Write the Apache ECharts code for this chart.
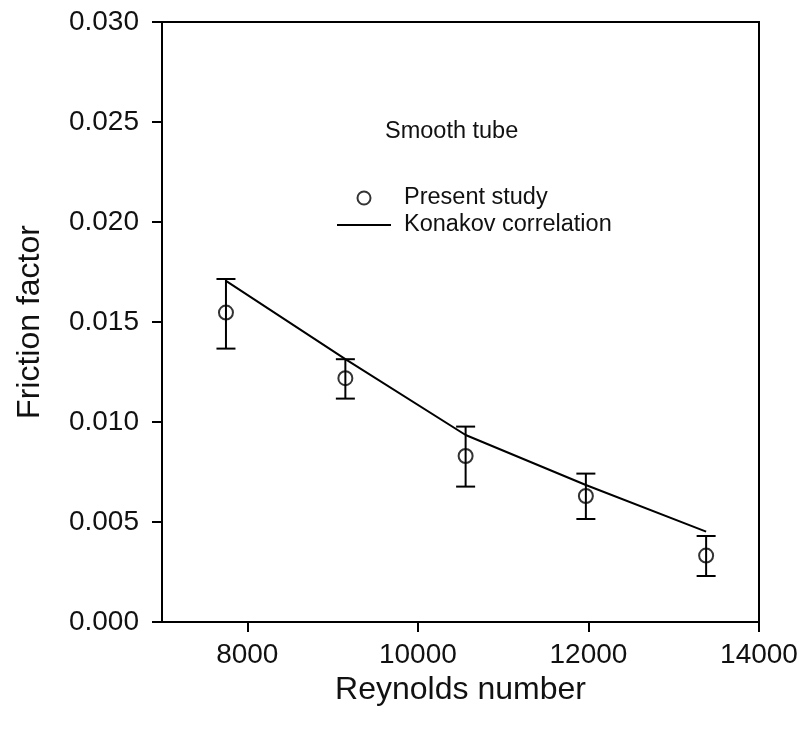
<!DOCTYPE html>
<html>
<head>
<meta charset="utf-8">
<script src="https://cdn.jsdelivr.net/npm/echarts@6/dist/echarts.min.js"></script>
<style>
html,body{margin:0;padding:0;background:#fff;}
#chart{width:801px;height:733px;}
</style>
</head>
<body>
<div id="chart"></div>
<script>
// ---- data ----
const reynolds = [7750, 9150, 10560, 11970, 13380];
const frictionStudy = [0.01547, 0.01219, 0.0083, 0.0063, 0.00332];
const errorHigh = [0.01715, 0.01314, 0.00977, 0.00742, 0.0043];
const errorLow = [0.01367, 0.01117, 0.00677, 0.00515, 0.0023];
const konakovRe = [7750, 9150, 10560, 11970, 13380];
const konakovF = [0.01706, 0.01314, 0.00935, 0.00685, 0.00452];
const xTickValues = [8000, 10000, 12000, 14000];
const seriesNames = ['Present study', 'Konakov correlation'];
const annotation = 'Smooth tube';
const xTitle = 'Reynolds number';
const yTitle = 'Friction factor';

const FONT = 'Liberation Sans, Arial, sans-serif';
const chart = echarts.init(document.getElementById('chart'), null, {renderer: 'canvas'});

const studyData = reynolds.map((x, i) => [x, frictionStudy[i]]);
const errData = reynolds.map((x, i) => [x, errorLow[i], errorHigh[i]]);
const lineData = konakovRe.map((x, i) => [x, konakovF[i]]);

const option = {
  animation: false,
  backgroundColor: '#fff',
  textStyle: {fontFamily: FONT},
  title: {
    text: annotation,
    left: 385, top: 120, padding: 0,
    textStyle: {fontSize: 23.5, fontWeight: 'normal', color: '#111', fontFamily: FONT}
  },
  legend: {
    orient: 'vertical',
    left: 336, top: 186, padding: 0,
    itemWidth: 54, itemHeight: 13, itemGap: 3,
    data: [
      {name: seriesNames[0]},
      {name: seriesNames[1], itemStyle: {opacity: 0}}
    ],
    textStyle: {fontSize: 23.5, color: '#111', fontFamily: FONT, lineHeight: 23, padding: [0, 0, 0, 8]}
  },
  grid: {
    left: 162, right: 42, top: 22, bottom: 111,
    show: true, borderColor: '#000', borderWidth: 2
  },
  xAxis: {
    type: 'value', min: 7000, max: 14000,
    name: xTitle, nameLocation: 'middle', nameGap: 50,
    nameTextStyle: {fontSize: 32, color: '#111', fontFamily: FONT},
    axisLine: {show: true, lineStyle: {color: '#000', width: 2}},
    axisTick: {show: true, length: 10, lineStyle: {color: '#000', width: 2}, customValues: xTickValues},
    axisLabel: {show: true, fontSize: 28, color: '#111', margin: 19, fontFamily: FONT,
      customValues: xTickValues, formatter: v => String(v)},
    splitLine: {show: false}
  },
  yAxis: {
    type: 'value', min: 0, max: 0.03, interval: 0.005,
    name: yTitle, nameLocation: 'middle', nameGap: 116, nameRotate: 90,
    nameTextStyle: {fontSize: 32, color: '#111', fontFamily: FONT},
    axisLine: {show: true, lineStyle: {color: '#000', width: 2}},
    axisTick: {show: true, length: 10, lineStyle: {color: '#000', width: 2}},
    axisLabel: {show: true, fontSize: 28, color: '#111', margin: 23, fontFamily: FONT,
      formatter: v => v.toFixed(3)},
    splitLine: {show: false}
  },
  series: [
    {
      name: seriesNames[1],
      type: 'line',
      data: lineData,
      symbol: 'none',
      lineStyle: {color: '#000', width: 2},
      itemStyle: {color: '#000'},
      z: 2
    },
    {
      type: 'custom',
      name: 'err',
      data: errData,
      renderItem: function (params, api) {
        const x = api.value(0);
        const lo = api.coord([x, api.value(1)]);
        const hi = api.coord([x, api.value(2)]);
        const hw = 9.5;
        const style = {stroke: '#000', lineWidth: 2};
        return {
          type: 'group',
          children: [
            {type: 'line', shape: {x1: lo[0], y1: lo[1], x2: hi[0], y2: hi[1]}, style: style},
            {type: 'line', shape: {x1: lo[0] - hw, y1: lo[1], x2: lo[0] + hw, y2: lo[1]}, style: style},
            {type: 'line', shape: {x1: hi[0] - hw, y1: hi[1], x2: hi[0] + hw, y2: hi[1]}, style: style}
          ]
        };
      },
      z: 3
    },
    {
      name: seriesNames[0],
      type: 'scatter',
      data: studyData,
      symbol: 'circle',
      symbolSize: 14,
      itemStyle: {color: 'rgba(255,255,255,0)', borderColor: '#000', borderWidth: 2},
      z: 4
    }
  ]
};
chart.setOption(option);
</script>
</body>
</html>
